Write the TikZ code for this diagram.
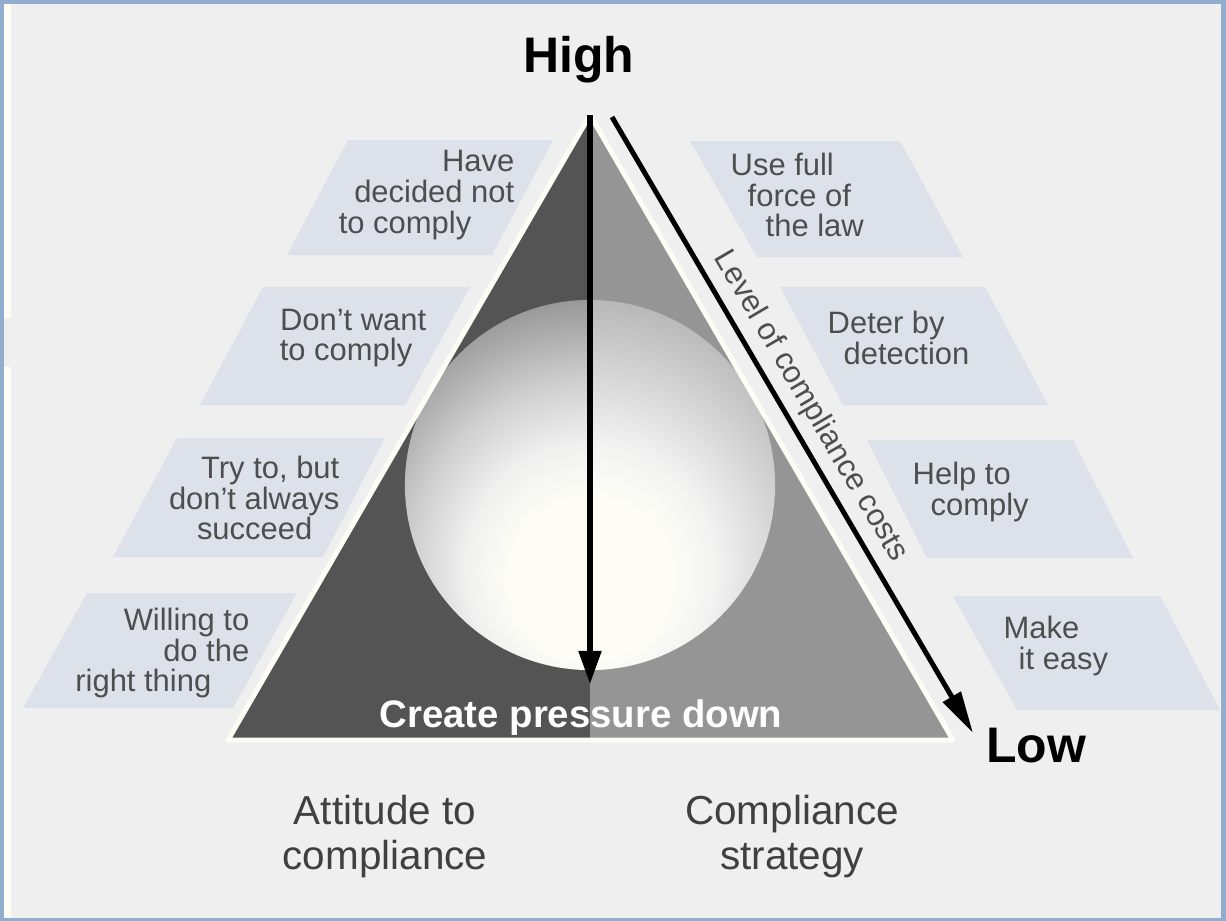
\documentclass[tikz,border=0pt]{standalone}
\usepackage{fontspec}
\setmainfont{Liberation Sans}
\usepackage{tikz}
\usetikzlibrary{arrows.meta}
\usepackage{xcolor}

\definecolor{framebl}{RGB}{147,173,206}
\definecolor{paper}{RGB}{239,239,239}
\definecolor{cream}{RGB}{253,253,246}
\definecolor{panel}{RGB}{221,225,234}
\definecolor{darkside}{RGB}{84,84,84}
\definecolor{lightside}{RGB}{149,149,149}
\definecolor{inkgray}{RGB}{78,78,78}

\pgfdeclareradialshading{globeleft}{\pgfpoint{0bp}{-15bp}}{color(0bp)=(cream); color(11bp)=(cream); color(17bp)=(black!6); color(24bp)=(black!19); color(29bp)=(black!31); color(35bp)=(black!45); color(40bp)=(black!55); color(70bp)=(black!58)}
\pgfdeclareradialshading{globeright}{\pgfpoint{0bp}{-15bp}}{color(0bp)=(cream); color(11bp)=(cream); color(17bp)=(black!5); color(26bp)=(black!18); color(33bp)=(black!28); color(38bp)=(black!37); color(42bp)=(lightside); color(70bp)=(lightside)}

\begin{document}
\begin{tikzpicture}[x=0.01cm, y=-0.01cm,
  box/.style={fill=panel},
  boxtext/.style={inner sep=0pt, text=inkgray, font=\fontsize{8.8}{8.7}\selectfont},
  endword/.style={inner sep=0pt, font=\bfseries\fontsize{14.2}{16}\selectfont},
  groupname/.style={inner sep=0pt, text=black!75, align=center, font=\fontsize{11.5}{12.8}\selectfont},
  fall/.style={line width=0.05cm, -{Triangle[length=0.33cm, width=0.22cm]}}]

  % frame and paper
  \fill[framebl] (0,0) rectangle (1226,921);
  \fill[paper] (4,4) rectangle (1221,918);
  \fill[cream] (4,4) rectangle (11,318);
  \fill[cream] (4,367) rectangle (11,918);

  % label panels
  \fill[box] (287,255) -- (492,255) -- (553,140) -- (348,140) -- cycle;
  \fill[box] (200,405) -- (405,405) -- (470,287) -- (263,287) -- cycle;
  \fill[box] (113,557) -- (323,557) -- (385,438) -- (177,438) -- cycle;
  \fill[box] (23,708) -- (233,708) -- (297,593) -- (87,593) -- cycle;
  \fill[box] (757,257) -- (963,257) -- (900,141) -- (690,141) -- cycle;
  \fill[box] (843,405) -- (1048,405) -- (985,287) -- (780,287) -- cycle;
  \fill[box] (927,558) -- (1133,558) -- (1073,440) -- (867,440) -- cycle;
  \fill[box] (1017,710) -- (1220,710) -- (1160,596) -- (953,596) -- cycle;

  % triangle
  \coordinate (apex) at (590,115);
  \coordinate (bl) at (228,740);
  \coordinate (bm) at (590,740);
  \coordinate (br) at (953,740);
  \fill[darkside] (apex) -- (bl) -- (bm) -- cycle;
  \fill[lightside] (apex) -- (bm) -- (br) -- cycle;
  \begin{scope}
    \clip (apex) -- (bl) -- (bm) -- cycle;
    \shade[shading=globeleft] (590,485) circle (1.85cm);
  \end{scope}
  \begin{scope}
    \clip (apex) -- (bm) -- (br) -- cycle;
    \shade[shading=globeright] (590,485) circle (1.85cm);
  \end{scope}
  \draw[cream, line width=0.05cm, line join=round] (apex) -- (bl) -- (br) -- cycle;

  \coordinate (press) at (590,684);
  \draw[fall] (apex) -- (press);
  \node[inner sep=0pt, text=white, font=\bfseries\fontsize{10.9}{12}\selectfont, anchor=base] (push) at (581,727) {Create pressure down};

  \coordinate (costtop) at (612,117);
  \coordinate (costend) at (973,733);
  \draw[line width=0.05cm, -{Triangle[length=0.42cm, width=0.2cm]}] (costtop) -- (costend)
    node[boxtext, sloped, above=0.08cm, pos=0.49] (costs) {Level of compliance costs};

  \node[endword, anchor=base] (high) at (579,73) {High};
  \node[endword, anchor=base] (low) at (1036,762) {Low};

  \node[boxtext, align=right, anchor=east] (decided) at (515,195) {Have\\decided not\hspace*{0.15cm}\\to comply\hspace*{0.43cm}};
  \node[boxtext, align=right, anchor=east] (unwilling) at (427,338) {Don't want\\to comply\hspace*{0.14cm}};
  \node[boxtext, align=right, anchor=east] (trying) at (340,498) {Try to, but\\don't always\hspace*{0.07cm}\\succeed\hspace*{0.27cm}};
  \node[boxtext, align=right, anchor=east] (willing) at (250,653) {Willing to\\do the\hspace*{0.17cm}\\right thing\hspace*{0.38cm}};

  \node[boxtext, align=left, anchor=west] (fullforce) at (730,195) {Use full\\\hspace*{0.17cm}force of\\\hspace*{0.35cm}the law};
  \node[boxtext, align=left, anchor=west] (deter) at (827,338) {Deter by\\\hspace*{0.16cm}detection};
  \node[boxtext, align=left, anchor=west] (help) at (912,492) {Help to\\\hspace*{0.18cm}comply};
  \node[boxtext, align=left, anchor=west] (easy) at (1003,646) {Make\\\hspace*{0.15cm}it easy};

  \node[groupname] (attitude) at (385,837) {Attitude to\\compliance};
  \node[groupname] (strategy) at (792,837) {Compliance\\strategy};
\end{tikzpicture}
\end{document}
